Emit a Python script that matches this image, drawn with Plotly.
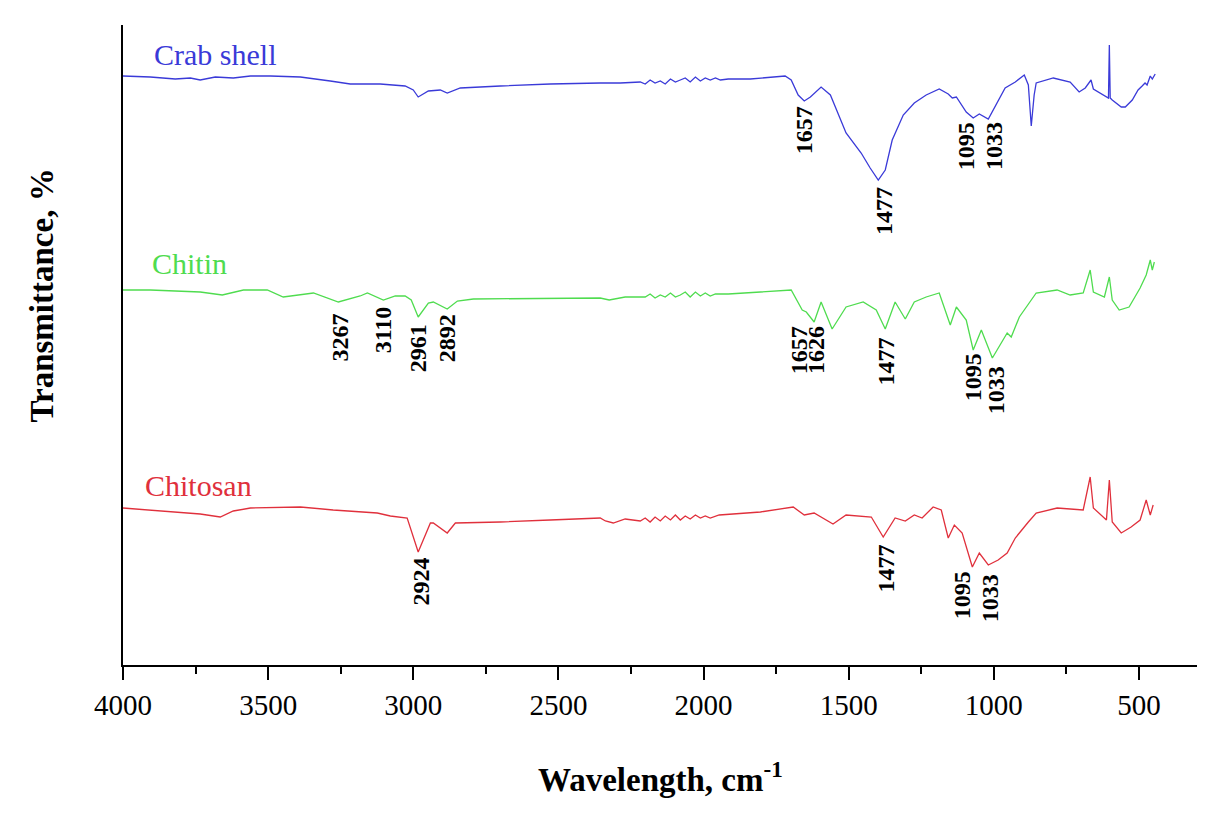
import plotly.graph_objects as go

# ---- spectra (wavenumber, transmittance in arbitrary offset units) ----
crab_wn = [4000, 3906, 3820, 3768, 3734, 3682, 3620, 3561, 3492, 3389, 3286, 3217, 3114, 3028, 3000,
           2983, 2948, 2907, 2883, 2838, 2700, 2528, 2356, 2287, 2218, 2201, 2184, 2167, 2149, 2132,
           2114, 2097, 2080, 2063, 2046, 2028, 2011, 1994, 1977, 1959, 1942, 1915, 1839, 1719, 1698,
           1674, 1653, 1632, 1595, 1563, 1509, 1457, 1426, 1398, 1374, 1350, 1312, 1274, 1233, 1188,
           1157, 1143, 1129, 1095, 1071, 1050, 1019, 995, 961, 926, 895, 881, 871, 861, 854, 795,
           737, 706, 685, 665, 657, 605, 602, 599, 592, 561, 547, 523, 503, 489, 479, 472, 461, 454, 444]
crab_t = [589, 588, 586, 587, 585, 588, 587, 589, 589, 588, 584, 581, 581, 579, 575,
          568, 574, 575, 572, 577, 579, 581, 582, 582, 583, 581, 585, 582, 584, 581,
          586, 583, 585, 587, 583, 588, 584, 587, 585, 587, 585, 586, 586, 589, 585,
          570, 564, 568, 578, 570, 532, 512, 497, 485, 495, 525, 550, 562, 570, 576,
          571, 567, 568, 553, 547, 551, 546, 559, 577, 583, 590, 580, 539, 570, 582, 587,
          583, 573, 577, 585, 576, 567, 620, 567, 565, 558, 558, 565, 575, 579, 582, 580, 589, 586, 591]

chitin_wn = [4000, 3906, 3734, 3658, 3585, 3503, 3448, 3344, 3258, 3183, 3158, 3103, 3062, 3028, 3007,
             2983, 2948, 2931, 2883, 2848, 2793, 2528, 2356, 2325, 2270, 2201, 2184, 2167, 2149, 2132,
             2114, 2097, 2080, 2063, 2046, 2028, 2011, 1994, 1977, 1959, 1915, 1804, 1698, 1660, 1646,
             1619, 1595, 1557, 1509, 1450, 1405, 1374, 1340, 1305, 1274, 1233, 1188, 1150, 1129, 1095,
             1071, 1043, 1005, 954, 940, 912, 854, 782, 737, 692, 668, 657, 619, 602, 592, 568, 534,
             496, 475, 461, 454, 447]
chitin_t = [375, 375, 373, 370, 375, 375, 368, 372, 363, 369, 372, 365, 369, 369, 365,
            348, 362, 363, 356, 364, 366, 367, 367, 365, 368, 368, 371, 367, 370, 368,
            372, 368, 370, 373, 368, 373, 369, 372, 369, 371, 371, 373, 375, 355, 353,
            343, 363, 336, 358, 363, 355, 336, 363, 346, 363, 368, 372, 340, 358, 345,
            315, 335, 307, 332, 328, 348, 372, 375, 370, 372, 395, 373, 368, 388, 365, 355, 358,
            377, 390, 405, 395, 403]

chitosan_wn = [4000, 3734, 3665, 3620, 3561, 3389, 3276, 3124, 3079, 3021, 2983, 2941, 2931, 2883, 2855,
               2700, 2528, 2383, 2356, 2338, 2311, 2270, 2218, 2201, 2184, 2167, 2149, 2132, 2114, 2097,
               2080, 2063, 2046, 2028, 2011, 1994, 1977, 1946, 1804, 1691, 1653, 1619, 1554, 1509, 1422,
               1381, 1340, 1305, 1274, 1247, 1209, 1181, 1157, 1136, 1109, 1074, 1050, 1019, 985, 954,
               926, 881, 854, 782, 692, 668, 657, 612, 602, 592, 561, 527, 496, 475, 461, 451]
chitosan_t = [157, 151, 148, 154, 157, 158, 155, 152, 149, 147, 113, 142, 142, 132, 142,
              143, 145, 147, 147, 144, 142, 146, 144, 147, 143, 148, 144, 149, 145, 150,
              145, 149, 146, 150, 147, 149, 147, 150, 153, 158, 150, 152, 141, 150, 148,
              128, 147, 144, 150, 147, 158, 155, 127, 140, 132, 98, 112, 100, 105, 112,
              127, 143, 152, 157, 155, 188, 157, 145, 185, 143, 132, 138, 145, 165, 150, 160]

# ---- series names and label positions ----
series_names = ["Crab shell", "Chitin", "Chitosan"]
series_colors = ["#3a3ad8", "#4fdc4f", "#e0303c"]
name_wn = [3899, 3906, 3930]
name_t = [611, 402, 180]

# ---- peak annotations ----
peak_text = ["1657", "1477", "1095", "1033",
             "3267", "3110", "2961", "2892", "1657", "1626", "1477", "1095", "1033",
             "2924", "1477", "1095", "1033"]
peak_wn = [1653, 1378, 1095, 999,
           3251, 3103, 2983, 2883, 1670, 1613, 1370, 1071, 992,
           2975, 1370, 1109, 1012]
peak_t = [535, 454, 519, 519,
          328, 335, 317, 327, 315, 315, 304, 288, 275,
          83, 97, 70, 67]

x_ticks = [4000, 3500, 3000, 2500, 2000, 1500, 1000, 500]

SERIF = "Liberation Serif, Times New Roman, serif"

fig = go.Figure()
for wn, t, nm, col in zip([crab_wn, chitin_wn, chitosan_wn], [crab_t, chitin_t, chitosan_t],
                          series_names, series_colors):
    fig.add_trace(go.Scatter(x=wn, y=t, mode="lines", name=nm,
                             line=dict(color=col, width=1.3), showlegend=False))

annotations = []
for nm, col, xw, yt in zip(series_names, series_colors, name_wn, name_t):
    annotations.append(dict(x=xw, y=yt, xref="x", yref="y", text=nm, showarrow=False,
                            xanchor="left", yanchor="middle",
                            font=dict(family=SERIF, size=30, color=col)))
for txt, xw, yt in zip(peak_text, peak_wn, peak_t):
    annotations.append(dict(x=xw, y=yt, xref="x", yref="y", text="<b>" + txt + "</b>",
                            showarrow=False, textangle=-90, xanchor="center", yanchor="middle",
                            font=dict(family=SERIF, size=24, color="black")))
annotations.append(dict(x=0.5, y=-0.175, xref="paper", yref="paper",
                        text="<b>Wavelength, cm<sup>-1</sup></b>", showarrow=False,
                        xanchor="center", yanchor="middle",
                        font=dict(family=SERIF, size=33, color="black")))
annotations.append(dict(x=-0.075, y=0.578, xref="paper", yref="paper",
                        text="<b>Transmittance, %</b>", showarrow=False, textangle=-90,
                        xanchor="center", yanchor="middle",
                        font=dict(family=SERIF, size=33, color="black")))

fig.update_layout(
    width=1213, height=818,
    margin=dict(l=123, r=16, t=25, b=153),
    paper_bgcolor="white", plot_bgcolor="white",
    annotations=annotations,
    xaxis=dict(range=[4000, 300], tickvals=x_ticks, ticktext=[str(v) for v in x_ticks],
               showline=True, linecolor="black", linewidth=2, ticks="outside",
               ticklen=13, tickwidth=2, tickcolor="black", showgrid=False, zeroline=False,
               minor=dict(tickvals=[3750, 3250, 2750, 2250, 1750, 1250, 750], ticks="outside",
                          ticklen=7, tickwidth=2, tickcolor="black", showgrid=False),
               tickfont=dict(family=SERIF, size=29, color="black")),
    yaxis=dict(range=[0, 640], showline=True, linecolor="black", linewidth=2,
               showticklabels=False, ticks="", showgrid=False, zeroline=False),
)

fig.write_html("out.html")
